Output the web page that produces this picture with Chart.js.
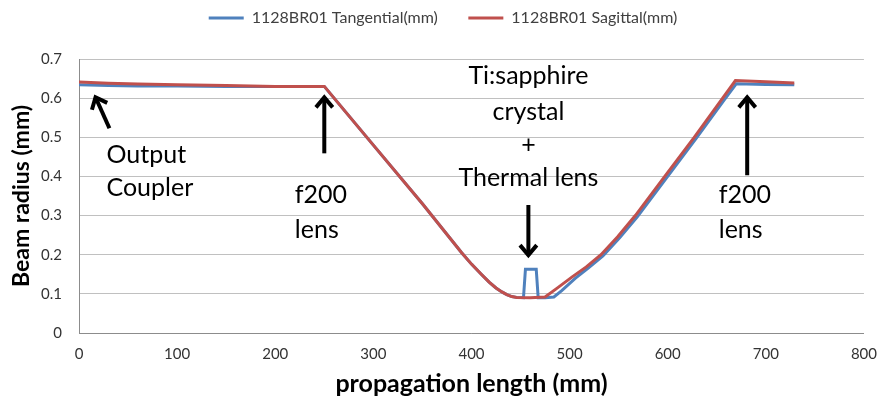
<!DOCTYPE html>
<html>
<head>
<meta charset="utf-8">
<script src="https://cdn.jsdelivr.net/npm/chart.js@4.4.1/dist/chart.umd.min.js"></script>
<style>
  html, body { margin: 0; padding: 0; background: #fff; }
</style>
</head>
<body>
<canvas id="beamChart" width="889" height="400"></canvas>
<script>
// beam radius along the cavity
const tanX = [0, 30, 60, 100, 150, 200, 250, 300, 350, 390, 400, 410, 418, 425, 431, 436, 441, 446, 453, 455, 466, 468, 475, 484, 492, 506, 519, 534, 551, 569, 599, 629, 658, 670, 700, 729];
const tanY = [0.634, 0.632, 0.631, 0.631, 0.630, 0.630, 0.630, 0.480, 0.330, 0.205, 0.176, 0.150, 0.130, 0.115, 0.105, 0.098, 0.093, 0.091, 0.090, 0.163, 0.163, 0.090, 0.090, 0.092, 0.108, 0.140, 0.166, 0.197, 0.243, 0.297, 0.397, 0.497, 0.597, 0.637, 0.635, 0.634];

const sagX = [0, 30, 60, 100, 150, 200, 250, 300, 350, 390, 400, 410, 418, 425, 431, 436, 441, 446, 460, 475, 487, 503, 517, 532, 549, 567, 597, 627, 656, 669, 700, 729];
const sagY = [0.641, 0.638, 0.636, 0.634, 0.632, 0.630, 0.630, 0.480, 0.330, 0.205, 0.176, 0.150, 0.130, 0.115, 0.105, 0.098, 0.093, 0.091, 0.090, 0.092, 0.114, 0.144, 0.169, 0.200, 0.246, 0.300, 0.400, 0.500, 0.600, 0.645, 0.642, 0.639];

const seriesNames = ["1128BR01 Tangential(mm)", "1128BR01 Sagittal(mm)"];

const BLUE = "#4f81bd";
const RED = "#c0504d";
const FONT = "Lato, 'Open Sans', sans-serif";

// text labels and arrows, in data units
const notes = [
  { lines: ["Output", "Coupler"], x: 28, y: [0.454, 0.37], align: "left" },
  { lines: ["f200", "lens"], x: 220, y: [0.352, 0.263], align: "left" },
  { lines: ["Ti:sapphire", "crystal", "+", "Thermal lens"], x: 458, y: [0.658, 0.564, 0.48, 0.395], align: "center" },
  { lines: ["f200", "lens"], x: 652, y: [0.352, 0.263], align: "left" }
];
const arrows = [
  { from: [31, 0.523], to: [16, 0.607] },
  { from: [250, 0.459], to: [250, 0.607] },
  { from: [458, 0.327], to: [458, 0.194] },
  { from: [681, 0.403], to: [681, 0.607] }
];

const toPoints = (xs, ys) => xs.map((x, i) => ({ x: x, y: ys[i] }));

const notesPlugin = {
  id: "notes",
  afterInit(chart) {
    // push the plot down below the legend like the original
    const legend = chart.legend;
    const fit = legend.fit;
    legend.fit = function () {
      fit.call(this);
      this.height = 59;
    };
  },
  afterDatasetsDraw(chart) {
    const ctx = chart.ctx;
    const xs = chart.scales.x;
    const ys = chart.scales.y;
    ctx.save();
    ctx.fillStyle = "#000";
    ctx.font = "25px " + FONT;
    ctx.textBaseline = "middle";
    notes.forEach(n => {
      ctx.textAlign = n.align;
      n.lines.forEach((t, i) => {
        ctx.fillText(t, xs.getPixelForValue(n.x), ys.getPixelForValue(n.y[i]));
      });
    });

    ctx.strokeStyle = "#000";
    ctx.lineWidth = 4;
    ctx.lineCap = "butt";
    ctx.lineJoin = "miter";
    arrows.forEach(a => {
      const x1 = xs.getPixelForValue(a.from[0]);
      const y1 = ys.getPixelForValue(a.from[1]);
      const x2 = xs.getPixelForValue(a.to[0]);
      const y2 = ys.getPixelForValue(a.to[1]);
      const ang = Math.atan2(y2 - y1, x2 - x1);
      const tipX = x2 - 2 * Math.cos(ang);
      const tipY = y2 - 2 * Math.sin(ang);
      ctx.beginPath();
      ctx.moveTo(x1, y1);
      ctx.lineTo(tipX, tipY);
      ctx.stroke();
      const len = 13;
      const spread = 0.7;
      ctx.beginPath();
      ctx.moveTo(tipX - len * Math.cos(ang - spread), tipY - len * Math.sin(ang - spread));
      ctx.lineTo(tipX, tipY);
      ctx.lineTo(tipX - len * Math.cos(ang + spread), tipY - len * Math.sin(ang + spread));
      ctx.stroke();
    });
    ctx.restore();
  }
};

const data = {
  datasets: [
    {
      label: seriesNames[0],
      data: toPoints(tanX, tanY),
      borderColor: BLUE,
      backgroundColor: BLUE,
      borderWidth: 3,
      pointRadius: 0,
      order: 1
    },
    {
      label: seriesNames[1],
      data: toPoints(sagX, sagY),
      borderColor: RED,
      backgroundColor: RED,
      borderWidth: 3,
      pointRadius: 0,
      order: 0
    }
  ]
};

const config = {
  type: "line",
  data: data,
  options: {
    responsive: false,
    animation: false,
    layout: { padding: { left: 0, right: 3, top: 0, bottom: 0 } },
    plugins: {
      tooltip: { enabled: false },
      legend: {
        position: "top",
        labels: {
          boxWidth: 35,
          boxHeight: 3,
          padding: 10,
          color: "#404040",
          font: { family: FONT, size: 16 },
          sort: (a, b) => a.datasetIndex - b.datasetIndex,
          generateLabels: chart => {
            const items = Chart.defaults.plugins.legend.labels.generateLabels(chart);
            items.forEach(it => {
              it.lineWidth = 0;
              if (it.datasetIndex === 0) it.text = it.text + "     ";
            });
            return items;
          }
        }
      }
    },
    scales: {
      x: {
        type: "linear",
        min: 0,
        max: 800,
        ticks: {
          stepSize: 100,
          padding: 12,
          color: "#333",
          font: { family: FONT, size: 15 }
        },
        grid: { display: false, drawTicks: false },
        border: { display: true, color: "#8c8c8c", width: 1 },
        title: {
          display: true,
          text: "propagation length (mm)",
          color: "#000",
          font: { family: FONT, size: 25, weight: "bold" },
          padding: { top: 0, bottom: 1 }
        },
        afterFit: s => { s.height = 67; }
      },
      y: {
        min: 0,
        max: 0.7,
        ticks: {
          stepSize: 0.1,
          padding: 17,
          color: "#333",
          font: { family: FONT, size: 15 },
          callback: v => (v === 0 ? "0" : v.toFixed(1))
        },
        grid: { color: "#c0c0c0", drawTicks: false },
        border: { display: true, color: "#8c8c8c", width: 1 },
        title: {
          display: true,
          text: "Beam radius (mm)",
          color: "#000",
          font: { family: FONT, size: 23, weight: "bold" },
          padding: { top: 8, bottom: 0 }
        },
        afterFit: s => { s.width = 79; }
      }
    }
  },
  plugins: [notesPlugin]
};

new Chart(document.getElementById("beamChart").getContext("2d"), config);
</script>
</body>
</html>
